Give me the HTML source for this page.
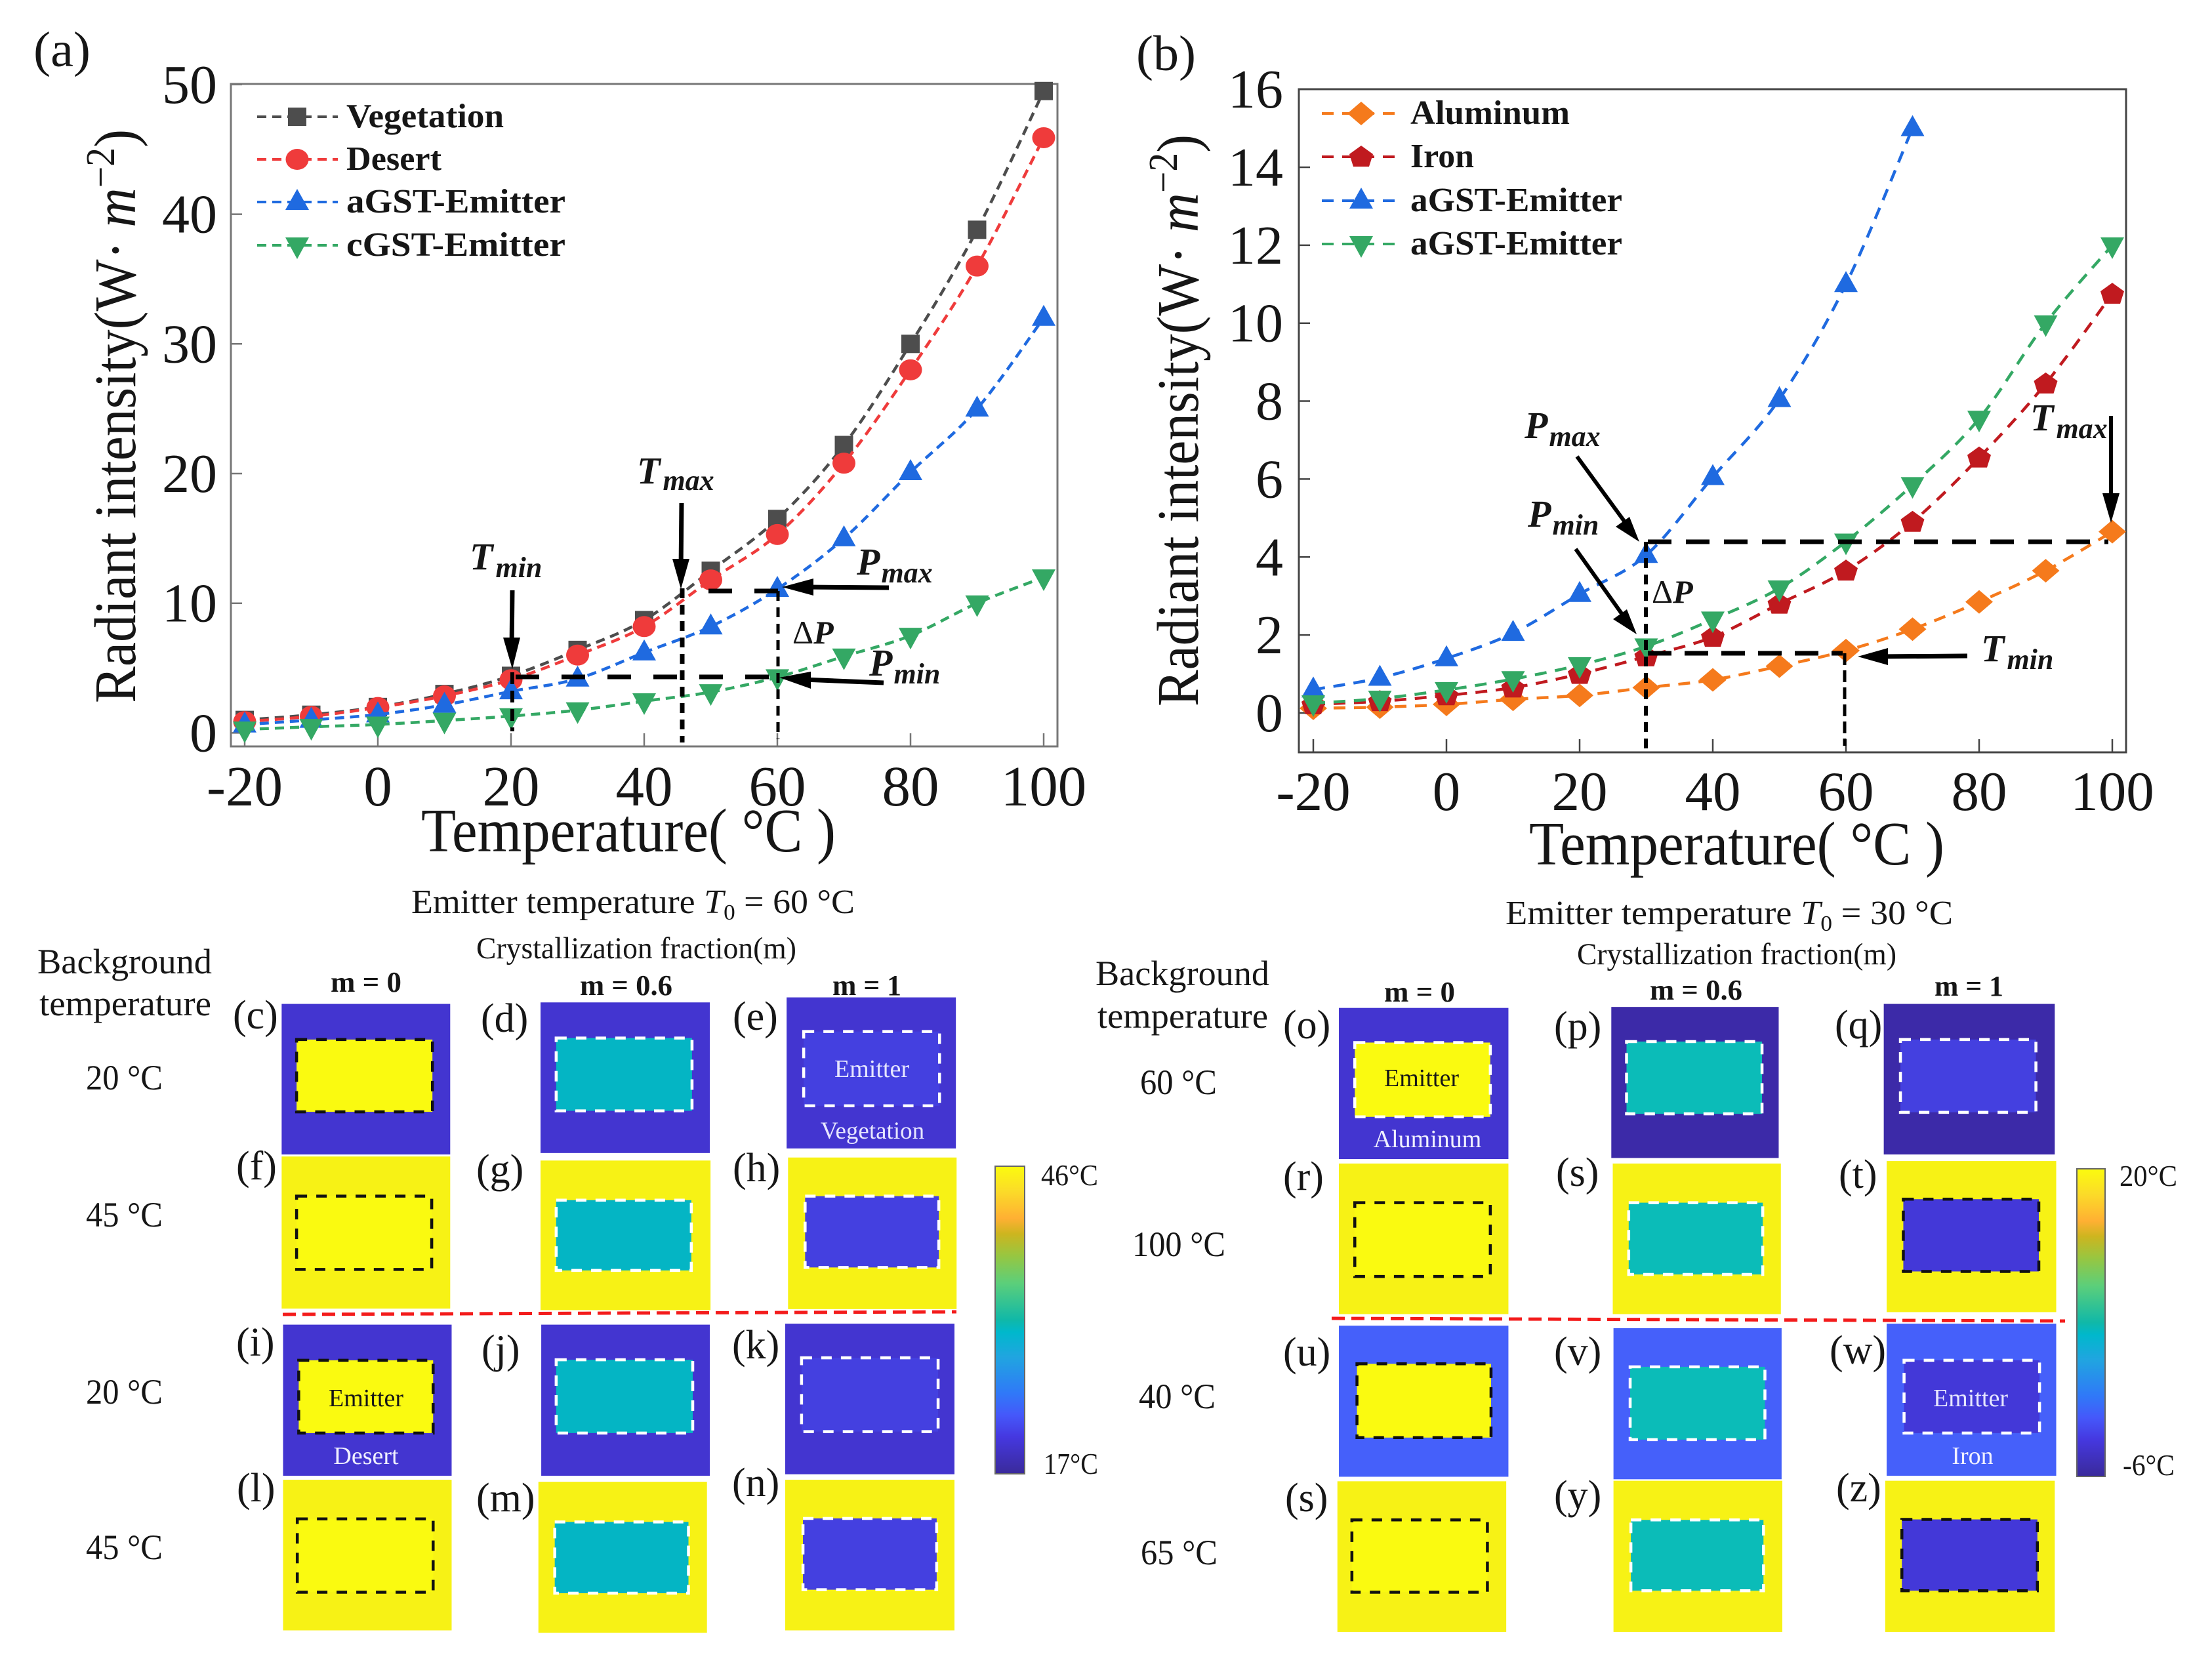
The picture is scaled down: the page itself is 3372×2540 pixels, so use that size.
<!DOCTYPE html>
<html lang="en">
<head>
<meta charset="utf-8">
<title>Radiant intensity and thermal camouflage panels</title>
<style>
html,body{margin:0;padding:0;background:#fff;}
svg{display:block;}
text{font-family:"Liberation Serif","DejaVu Serif",serif;fill:#161616;}
.ns{vector-effect:non-scaling-stroke;}
.bi{font-weight:bold;font-style:italic;}
</style>
</head>
<body>
<svg id="fig" xmlns="http://www.w3.org/2000/svg" width="3372" height="2540" viewBox="0 0 3372 2540">
<defs>
<linearGradient id="parula" x1="0" y1="0" x2="0" y2="1">
<stop offset="0" stop-color="#fbfb0e"/><stop offset=".08" stop-color="#fbdc28"/><stop offset=".17" stop-color="#ffb033"/><stop offset=".22" stop-color="#cdb51f"/><stop offset=".29" stop-color="#98c640"/><stop offset=".38" stop-color="#5ccf7a"/><stop offset=".5" stop-color="#10b8a8"/><stop offset=".54" stop-color="#00b8cc"/><stop offset=".62" stop-color="#20a5e0"/><stop offset=".74" stop-color="#3078f8"/><stop offset=".81" stop-color="#4558fa"/><stop offset=".88" stop-color="#4538e0"/><stop offset="1" stop-color="#3a2a9a"/>
</linearGradient>
</defs>

<g id="chart-a"></g>
<g id="chart-b"></g>

<!-- chart (a) static text -->
<text x="51" y="101" font-size="76" textLength="87" lengthAdjust="spacingAndGlyphs">(a)</text>
<text transform="translate(206,1072) rotate(-90)" font-size="90" textLength="875" lengthAdjust="spacingAndGlyphs">Radiant intensity(W· <tspan font-style="italic">m</tspan><tspan font-size="62" dy="-32">−2</tspan><tspan dy="32">)</tspan></text>
<text x="642" y="1298" font-size="94" textLength="632" lengthAdjust="spacingAndGlyphs">Temperature( °C )</text>

<g fill="none" stroke="#000">
<line x1="781" y1="1025" x2="781" y2="1115" stroke-width="6" stroke-dasharray="18 10"/>
<line x1="786" y1="1032" x2="1186" y2="1032" stroke-width="7" stroke-dasharray="36 34"/>
<line x1="1040" y1="897" x2="1040" y2="1132" stroke-width="7" stroke-dasharray="15 10"/>
<line x1="1080" y1="901" x2="1186" y2="901" stroke-width="7" stroke-dasharray="36 34"/>
<line x1="1186" y1="901" x2="1186" y2="1127" stroke-width="5" stroke-dasharray="15 10"/>
</g>
<g fill="#000" stroke="#000">
<line x1="781" y1="900" x2="780" y2="990" stroke-width="7"/>
<polygon points="767,972 793,972 781,1020" stroke="none"/>
<line x1="1039" y1="767" x2="1038" y2="870" stroke-width="7"/>
<polygon points="1025,852 1051,852 1038,898" stroke="none"/>
<line x1="1355" y1="896" x2="1225" y2="895" stroke-width="7"/>
<polygon points="1240,882 1240,908 1192,895" stroke="none"/>
<line x1="1347" y1="1041" x2="1225" y2="1036" stroke-width="7"/>
<polygon points="1236,1024 1236,1050 1188,1033" stroke="none"/>
</g>
<text x="716" y="868" class="bi" font-size="58">T<tspan font-size="44" dy="12" dx="4">min</tspan></text>
<text x="971" y="737" class="bi" font-size="58">T<tspan font-size="44" dy="10" dx="4">max</tspan></text>
<text x="1306" y="876" class="bi" font-size="58">P<tspan font-size="44" dy="12" dx="2">max</tspan></text>
<text x="1208" y="981" font-size="50">Δ<tspan font-style="italic" font-weight="bold">P</tspan></text>
<text x="1325" y="1030" class="bi" font-size="58">P<tspan font-size="44" dy="12" dx="2">min</tspan></text>

<!-- chart (b) static text -->
<text x="1732" y="107" font-size="76" textLength="91" lengthAdjust="spacingAndGlyphs">(b)</text>
<text transform="translate(1826,1077) rotate(-90)" font-size="90" textLength="872" lengthAdjust="spacingAndGlyphs">Radiant intensity(W· <tspan font-style="italic">m</tspan><tspan font-size="62" dy="-32">−2</tspan><tspan dy="32">)</tspan></text>
<text x="2331" y="1318" font-size="94" textLength="633" lengthAdjust="spacingAndGlyphs">Temperature( °C )</text>

<g fill="none" stroke="#000">
<line x1="2512" y1="826" x2="3214" y2="826" stroke-width="7" stroke-dasharray="36 22"/>
<line x1="2509" y1="826" x2="2509" y2="1145" stroke-width="6" stroke-dasharray="15 10"/>
<line x1="2512" y1="996" x2="2809" y2="996" stroke-width="7" stroke-dasharray="36 20"/>
<line x1="2812" y1="996" x2="2812" y2="1137" stroke-width="5" stroke-dasharray="18 8"/>
</g>
<g fill="#000" stroke="#000">
<line x1="2404" y1="696" x2="2480" y2="800" stroke-width="6"/>
<polygon points="2463,803 2484,788 2499,826" stroke="none"/>
<line x1="2402" y1="837" x2="2476" y2="941" stroke-width="6"/>
<polygon points="2459,944 2480,929 2495,967" stroke="none"/>
<line x1="2999" y1="1000" x2="2862" y2="1001" stroke-width="7"/>
<polygon points="2878,988 2878,1014 2832,1001" stroke="none"/>
<line x1="3218" y1="634" x2="3218" y2="765" stroke-width="6"/>
<polygon points="3205,752 3231,752 3218,797" stroke="none"/>
</g>
<text x="2324" y="668" class="bi" font-size="58">P<tspan font-size="44" dy="12" dx="2">max</tspan></text>
<text x="2329" y="803" class="bi" font-size="58">P<tspan font-size="44" dy="12" dx="2">min</tspan></text>
<text x="2518" y="919" font-size="50">Δ<tspan font-style="italic" font-weight="bold">P</tspan></text>
<text x="3020" y="1008" class="bi" font-size="58">T<tspan font-size="44" dy="12" dx="4">min</tspan></text>
<text x="3095" y="656" class="bi" font-size="58">T<tspan font-size="44" dy="12" dx="4">max</tspan></text>

<!-- left thermal panel grid -->
<g transform="translate(0,1340) scale(1.0842,.7653)" stroke-width="4.5" stroke-dasharray="16 14">
<rect x="396" y="249" width="237" height="300" fill="#4335d0" stroke="none"/>
<rect x="417" y="320" width="191" height="144" fill="#fafa10" stroke="#111" class="ns"/>
<rect x="760" y="246" width="238" height="300" fill="#4335d0" stroke="none"/>
<rect x="782" y="317" width="191" height="145" fill="#04b5c4" stroke="#fff" class="ns"/>
<rect x="1106" y="236" width="238" height="301" fill="#4335d0" stroke="none"/>
<rect x="1130" y="304" width="191" height="148" fill="#4440e0" stroke="#fff" class="ns"/>
<rect x="396" y="553" width="237" height="303" fill="#f7f215" stroke="none"/>
<rect x="417" y="632" width="190" height="146" fill="#fafa10" stroke="#111" class="ns"/>
<rect x="760" y="561" width="239" height="298" fill="#f7f215" stroke="none"/>
<rect x="782" y="640" width="190" height="140" fill="#04b5c4" stroke="#fff" class="ns"/>
<rect x="1108" y="555" width="237" height="302" fill="#f7f215" stroke="none"/>
<rect x="1132" y="632" width="188" height="142" fill="#4440e0" stroke="#fff" class="ns"/>
<rect x="398" y="888" width="237" height="301" fill="#4335d0" stroke="none"/>
<rect x="420" y="959" width="189" height="145" fill="#fafa10" stroke="#111" class="ns"/>
<rect x="761" y="888" width="237" height="301" fill="#4335d0" stroke="none"/>
<rect x="782" y="958" width="192" height="146" fill="#04b5c4" stroke="#fff" class="ns"/>
<rect x="1104" y="886" width="238" height="300" fill="#4335d0" stroke="none"/>
<rect x="1127" y="954" width="192" height="147" fill="#4440e0" stroke="#fff" class="ns"/>
<rect x="398" y="1197" width="237" height="300" fill="#f7f215" stroke="none"/>
<rect x="418" y="1275" width="191" height="146" fill="#fafa10" stroke="#111" class="ns"/>
<rect x="757" y="1201" width="237" height="301" fill="#f7f215" stroke="none"/>
<rect x="780" y="1281" width="188" height="142" fill="#04b5c4" stroke="#fff" class="ns"/>
<rect x="1104" y="1197" width="238" height="300" fill="#f7f215" stroke="none"/>
<rect x="1129" y="1274" width="188" height="142" fill="#4440e0" stroke="#fff" class="ns"/>
</g>

<!-- right thermal panel grid -->
<g transform="translate(1640,1340) scale(1.1046,.7653)" stroke-width="4.5" stroke-dasharray="16 14">
<rect x="363" y="257" width="234" height="301" fill="#4335d0" stroke="none"/>
<rect x="385" y="326" width="187" height="148" fill="#fafa10" stroke="#fff" class="ns"/>
<rect x="739" y="255" width="231" height="301" fill="#3c2aa8" stroke="none"/>
<rect x="760" y="324" width="187" height="144" fill="#0bbcb8" stroke="#fff" class="ns"/>
<rect x="1115" y="249" width="236" height="300" fill="#3c2aa8" stroke="none"/>
<rect x="1138" y="320" width="187" height="145" fill="#4440e0" stroke="#fff" class="ns"/>
<rect x="363" y="567" width="234" height="300" fill="#f7f215" stroke="none"/>
<rect x="385" y="645" width="187" height="147" fill="#fafa10" stroke="#111" class="ns"/>
<rect x="741" y="567" width="232" height="300" fill="#f7f215" stroke="none"/>
<rect x="763" y="645" width="185" height="143" fill="#0bbcb8" stroke="#fff" class="ns"/>
<rect x="1119" y="562" width="234" height="301" fill="#f7f215" stroke="none"/>
<rect x="1142" y="638" width="187" height="144" fill="#4338d8" stroke="#111" class="ns"/>
<rect x="363" y="890" width="234" height="301" fill="#4560fa" stroke="none"/>
<rect x="388" y="966" width="185" height="147" fill="#fafa10" stroke="#111" class="ns"/>
<rect x="742" y="895" width="232" height="301" fill="#4560fa" stroke="none"/>
<rect x="765" y="972" width="186" height="145" fill="#0bbcb8" stroke="#fff" class="ns"/>
<rect x="1119" y="886" width="234" height="303" fill="#4560fa" stroke="none"/>
<rect x="1143" y="959" width="187" height="145" fill="#4338d8" stroke="#fff" class="ns"/>
<rect x="361" y="1200" width="233" height="300" fill="#f7f215" stroke="none"/>
<rect x="381" y="1277" width="187" height="144" fill="#fafa10" stroke="#111" class="ns"/>
<rect x="742" y="1199" width="233" height="301" fill="#f7f215" stroke="none"/>
<rect x="766" y="1277" width="183" height="141" fill="#0bbcb8" stroke="#fff" class="ns"/>
<rect x="1117" y="1199" width="234" height="301" fill="#f7f215" stroke="none"/>
<rect x="1140" y="1276" width="187" height="142" fill="#4338d8" stroke="#111" class="ns"/>
</g>

<line x1="431" y1="2004" x2="1458" y2="2000" stroke="#f31b1b" stroke-width="5" stroke-dasharray="20 10"/>
<line x1="2030" y1="2010" x2="3148" y2="2014" stroke="#f31b1b" stroke-width="5" stroke-dasharray="20 10"/>

<!-- colorbars -->
<rect x="1517" y="1778" width="45" height="469" fill="url(#parula)" stroke="#666" stroke-width="2"/>
<rect x="3166" y="1782" width="43" height="469" fill="url(#parula)" stroke="#666" stroke-width="2"/>
<text x="1587" y="1807" font-size="46" textLength="87" lengthAdjust="spacingAndGlyphs">46°C</text>
<text x="1591" y="2247" font-size="46" textLength="83" lengthAdjust="spacingAndGlyphs">17°C</text>
<text x="3231" y="1808" font-size="46" textLength="88" lengthAdjust="spacingAndGlyphs">20°C</text>
<text x="3236" y="2249" font-size="46" textLength="79" lengthAdjust="spacingAndGlyphs">-6°C</text>

<!-- left grid headings -->
<text x="627" y="1392" font-size="52" textLength="676" lengthAdjust="spacingAndGlyphs">Emitter temperature <tspan font-style="italic">T</tspan><tspan font-size="34" dy="10">0</tspan><tspan dy="-10"> = 60 °C</tspan></text>
<text x="726" y="1461" font-size="47" textLength="488" lengthAdjust="spacingAndGlyphs">Crystallization fraction(m)</text>
<text x="57" y="1484" font-size="54" textLength="266" lengthAdjust="spacingAndGlyphs">Background</text>
<text x="60" y="1548" font-size="54" textLength="262" lengthAdjust="spacingAndGlyphs">temperature</text>
<text x="504" y="1512" font-size="44" font-weight="bold" textLength="108" lengthAdjust="spacingAndGlyphs">m = 0</text>
<text x="884" y="1517" font-size="44" font-weight="bold" textLength="141" lengthAdjust="spacingAndGlyphs">m = 0.6</text>
<text x="1269" y="1517" font-size="44" font-weight="bold" textLength="105" lengthAdjust="spacingAndGlyphs">m = 1</text>
<g font-size="54">
<text x="131" y="1661" textLength="117" lengthAdjust="spacingAndGlyphs">20 °C</text>
<text x="131" y="1870" textLength="117" lengthAdjust="spacingAndGlyphs">45 °C</text>
<text x="131" y="2140" textLength="117" lengthAdjust="spacingAndGlyphs">20 °C</text>
<text x="131" y="2377" textLength="117" lengthAdjust="spacingAndGlyphs">45 °C</text>
</g>
<g font-size="62">
<text x="355" y="1568">(c)</text>
<text x="733" y="1573">(d)</text>
<text x="1117" y="1570">(e)</text>
<text x="360" y="1798">(f)</text>
<text x="726" y="1803">(g)</text>
<text x="1117" y="1801">(h)</text>
<text x="360" y="2067">(i)</text>
<text x="734" y="2078">(j)</text>
<text x="1116" y="2071">(k)</text>
<text x="361" y="2289">(l)</text>
<text x="726" y="2304">(m)</text>
<text x="1116" y="2281">(n)</text>
</g>
<text x="1329" y="1642" font-size="38" text-anchor="middle" style="fill:#e6e6ff">Emitter</text>
<text x="1330" y="1736" font-size="37" text-anchor="middle" style="fill:#e6e6ff">Vegetation</text>
<text x="558" y="2144" font-size="38" text-anchor="middle">Emitter</text>
<text x="558" y="2232" font-size="38" text-anchor="middle" style="fill:#f0f0ff">Desert</text>

<!-- right grid headings -->
<text x="2295" y="1409" font-size="52" textLength="682" lengthAdjust="spacingAndGlyphs">Emitter temperature <tspan font-style="italic">T</tspan><tspan font-size="34" dy="10">0</tspan><tspan dy="-10"> = 30 °C</tspan></text>
<text x="2404" y="1470" font-size="47" textLength="487" lengthAdjust="spacingAndGlyphs">Crystallization fraction(m)</text>
<text x="1670" y="1502" font-size="54" textLength="265" lengthAdjust="spacingAndGlyphs">Background</text>
<text x="1673" y="1567" font-size="54" textLength="260" lengthAdjust="spacingAndGlyphs">temperature</text>
<text x="2110" y="1527" font-size="44" font-weight="bold" textLength="108" lengthAdjust="spacingAndGlyphs">m = 0</text>
<text x="2515" y="1524" font-size="44" font-weight="bold" textLength="141" lengthAdjust="spacingAndGlyphs">m = 0.6</text>
<text x="2949" y="1518" font-size="44" font-weight="bold" textLength="105" lengthAdjust="spacingAndGlyphs">m = 1</text>
<g font-size="54">
<text x="1738" y="1668" textLength="117" lengthAdjust="spacingAndGlyphs">60 °C</text>
<text x="1726" y="1915" textLength="142" lengthAdjust="spacingAndGlyphs">100 °C</text>
<text x="1736" y="2147" textLength="117" lengthAdjust="spacingAndGlyphs">40 °C</text>
<text x="1739" y="2385" textLength="117" lengthAdjust="spacingAndGlyphs">65 °C</text>
</g>
<g font-size="62">
<text x="1956" y="1583">(o)</text>
<text x="2369" y="1585">(p)</text>
<text x="2797" y="1583">(q)</text>
<text x="1956" y="1814">(r)</text>
<text x="2372" y="1808">(s)</text>
<text x="2803" y="1811">(t)</text>
<text x="1956" y="2082">(u)</text>
<text x="2369" y="2081">(v)</text>
<text x="2789" y="2079">(w)</text>
<text x="1959" y="2304">(s)</text>
<text x="2369" y="2300">(y)</text>
<text x="2799" y="2289">(z)</text>
</g>
<text x="2167" y="1656" font-size="38" text-anchor="middle">Emitter</text>
<text x="2176" y="1749" font-size="38" text-anchor="middle" style="fill:#f0f0ff">Aluminum</text>
<text x="3004" y="2144" font-size="38" text-anchor="middle" style="fill:#e6e6ff">Emitter</text>
<text x="3007" y="2232" font-size="38" text-anchor="middle" style="fill:#f0f0ff">Iron</text>
</svg>

<script>
const temperatures = [-20,-10,0,10,20,30,40,50,60,70,80,90,100];
const xTickLabels = [-20,0,20,40,60,80,100];
const yTicksA = [0,10,20,30,40,50];
const yTicksB = [0,2,4,6,8,10,12,14,16];

const vegetationValues = [1.0,1.4,2.0,3.0,4.4,6.4,8.7,12.5,16.5,22.2,30,38.8,49.5];
const desertValues = [0.87,1.28,1.96,2.85,4.1,6.0,8.2,11.8,15.3,20.8,28,36,45.9];
const agstValuesA = [0.64,1.0,1.42,2.16,3.2,4.18,6.2,8.2,11.1,15,20.1,25,32];
const cgstValuesA = [0.27,0.47,0.65,0.95,1.3,1.75,2.45,3.15,4.3,5.9,7.5,10,12];

const aluminumValues = [0.12,0.15,0.22,0.35,0.45,0.65,0.85,1.2,1.6,2.15,2.85,3.65,4.65];
const ironValues = [0.22,0.3,0.45,0.65,1.0,1.45,1.95,2.8,3.65,4.9,6.55,8.45,10.75];
const agstValuesB = [0.6,0.9,1.4,2.05,3.05,4.05,6.05,8.05,11,15];
const cgstValuesB = [0.25,0.37,0.59,0.87,1.23,1.71,2.4,3.2,4.4,5.85,7.55,10,12];

const NS = 'http://www.w3.org/2000/svg';
const svgA = document.getElementById('chart-a');
const svgB = document.getElementById('chart-b');

function xA(t){ return 373 + (t + 20) * (1591 - 373) / 120; }
function yA(v){ return 1117.4 - v * 19.77; }
function xB(t){ return 2002 + (t + 20) * (3220 - 2002) / 120; }
function yB(v){ return 1087 - v * 59.43; }

function smoothPath(pts){
  let d = 'M' + pts[0][0] + ' ' + pts[0][1];
  for (let i = 0; i < pts.length - 1; i++) {
    const p0 = pts[Math.max(i - 1, 0)], p1 = pts[i], p2 = pts[i + 1], p3 = pts[Math.min(i + 2, pts.length - 1)];
    d += ' C' + (p1[0] + (p2[0] - p0[0]) / 6) + ' ' + (p1[1] + (p2[1] - p0[1]) / 6) + ' ' +
         (p2[0] - (p3[0] - p1[0]) / 6) + ' ' + (p2[1] - (p3[1] - p1[1]) / 6) + ' ' + p2[0] + ' ' + p2[1];
  }
  return d;
}

function drawMarker(parent, shape, cx, cy, color, name){
  let el;
  if (shape === 'circle') {
    el = document.createElementNS(NS, 'ellipse');
    el.setAttribute('cx', cx);
    el.setAttribute('cy', cy);
    el.setAttribute('rx', 17.5);
    el.setAttribute('ry', 16);
  } else if (shape === 'square') {
    el = document.createElementNS(NS, 'rect');
    el.setAttribute('x', cx - 14);
    el.setAttribute('y', cy - 14);
    el.setAttribute('width', 28);
    el.setAttribute('height', 28);
  } else {
    el = document.createElementNS(NS, 'polygon');
    let p;
    if (shape === 'up') p = [[cx - 18, cy + 12], [cx + 18, cy + 12], [cx, cy - 20]];
    else if (shape === 'down') p = [[cx - 18, cy - 12], [cx + 18, cy - 12], [cx, cy + 21]];
    else if (shape === 'diamond') p = [[cx, cy - 18], [cx + 21, cy], [cx, cy + 18], [cx - 21, cy]];
    else p = [[cx, cy - 17], [cx + 18, cy - 4], [cx + 12, cy + 15], [cx - 12, cy + 15], [cx - 18, cy - 4]];
    el.setAttribute('points', p.map(function(q){ return q.join(','); }).join(' '));
  }
  el.setAttribute('fill', color);
  
  
  parent.appendChild(el);
}

function drawSeries(parent, values, xf, yf, shape, color, dash, name){
  const g = document.createElementNS(NS, 'g');
  
  
  parent.appendChild(g);
  const pts = values.map(function(v, i){ return [xf(temperatures[i]), yf(v)]; });
  const line = document.createElementNS(NS, 'path');
  line.setAttribute('d', smoothPath(pts));
  line.setAttribute('fill', 'none');
  line.setAttribute('stroke', color);
  line.setAttribute('stroke-width', 4.5);
  line.setAttribute('stroke-dasharray', dash);
  
  
  g.appendChild(line);
  pts.forEach(function(p){
    drawMarker(g, shape, p[0], p[1], color, name + '-point');
  });
}

function drawAxes(parent, left, right, top, bottom, xf, yf, yTicks, yLabelRight, yFont, xBaseline, xFont, frameColor, suffix){
  const frame = document.createElementNS(NS, 'rect');
  frame.setAttribute('x', left);
  frame.setAttribute('y', top);
  frame.setAttribute('width', right - left);
  frame.setAttribute('height', bottom - top);
  frame.setAttribute('fill', '#fff');
  frame.setAttribute('stroke', frameColor);
  frame.setAttribute('stroke-width', 3);
  
  
  parent.appendChild(frame);
  xTickLabels.forEach(function(t){
    const tick = document.createElementNS(NS, 'line');
    tick.setAttribute('x1', xf(t));
    tick.setAttribute('x2', xf(t));
    tick.setAttribute('y1', bottom);
    tick.setAttribute('y2', bottom - 20);
    tick.setAttribute('stroke', frameColor);
    tick.setAttribute('stroke-width', 2.5);
    
    
    parent.appendChild(tick);
    const label = document.createElementNS(NS, 'text');
    label.setAttribute('x', xf(t));
    label.setAttribute('y', xBaseline);
    label.setAttribute('font-size', xFont);
    label.setAttribute('text-anchor', 'middle');
    
    
    label.textContent = t;
    parent.appendChild(label);
  });
  yTicks.forEach(function(v){
    const tick = document.createElementNS(NS, 'line');
    tick.setAttribute('x1', left);
    tick.setAttribute('x2', left + 17);
    tick.setAttribute('y1', yf(v));
    tick.setAttribute('y2', yf(v));
    tick.setAttribute('stroke', frameColor);
    tick.setAttribute('stroke-width', 2.5);
    
    
    parent.appendChild(tick);
    const label = document.createElementNS(NS, 'text');
    label.setAttribute('x', yLabelRight);
    label.setAttribute('y', yf(v) + 28);
    label.setAttribute('font-size', yFont);
    label.setAttribute('text-anchor', 'end');
    
    
    label.textContent = v;
    parent.appendChild(label);
  });
}

function drawLegendRow(parent, x1, x2, mx, tx, y, shape, color, dash, text, width, name){
  const line = document.createElementNS(NS, 'line');
  line.setAttribute('x1', x1);
  line.setAttribute('x2', x2);
  line.setAttribute('y1', y);
  line.setAttribute('y2', y);
  line.setAttribute('stroke', color);
  line.setAttribute('stroke-width', 4);
  line.setAttribute('stroke-dasharray', dash);
  
  
  parent.appendChild(line);
  drawMarker(parent, shape, mx, y, color, name + '-legend-marker');
  const label = document.createElementNS(NS, 'text');
  label.setAttribute('x', tx);
  label.setAttribute('y', y + 16);
  label.setAttribute('font-size', 52);
  label.setAttribute('font-weight', 'bold');
  label.setAttribute('textLength', width);
  label.setAttribute('lengthAdjust', 'spacingAndGlyphs');
  
  
  label.textContent = text;
  parent.appendChild(label);
}

const dashA = '14 9', dashB = '18 13';
drawAxes(svgA, 352, 1612, 128, 1138, xA, yA, yTicksA, 331, 84, 1228, 87, '#777', 'a');
drawSeries(svgA, vegetationValues, xA, yA, 'square', '#4d4d4d', dashA, 'vegetation');
drawSeries(svgA, desertValues, xA, yA, 'circle', '#ef3b3b', dashA, 'desert');
drawSeries(svgA, agstValuesA, xA, yA, 'up', '#1f6ae0', dashA, 'agst-a');
drawSeries(svgA, cgstValuesA, xA, yA, 'down', '#34a864', dashA, 'cgst-a');
drawLegendRow(svgA, 392, 515, 453, 528, 178, 'square', '#4d4d4d', dashA, 'Vegetation', 240, 'vegetation');
drawLegendRow(svgA, 392, 515, 453, 528, 243, 'circle', '#ef3b3b', dashA, 'Desert', 145, 'desert');
drawLegendRow(svgA, 392, 515, 453, 528, 308, 'up', '#1f6ae0', dashA, 'aGST-Emitter', 334, 'agst-a');
drawLegendRow(svgA, 392, 515, 453, 528, 374, 'down', '#34a864', dashA, 'cGST-Emitter', 334, 'cgst-a');

drawAxes(svgB, 1980, 3241, 136, 1147, xB, yB, yTicksB, 1956, 84, 1235, 85, '#444', 'b');
drawSeries(svgB, aluminumValues, xB, yB, 'diamond', '#f57a1c', dashB, 'aluminum');
drawSeries(svgB, ironValues, xB, yB, 'pentagon', '#c01a1f', dashB, 'iron');
drawSeries(svgB, agstValuesB, xB, yB, 'up', '#1f6ae0', dashB, 'agst-b');
drawSeries(svgB, cgstValuesB, xB, yB, 'down', '#34a864', dashB, 'cgst-b');
drawLegendRow(svgB, 2015, 2137, 2075, 2150, 173, 'diamond', '#f57a1c', dashB, 'Aluminum', 243, 'aluminum');
drawLegendRow(svgB, 2015, 2137, 2075, 2150, 239, 'pentagon', '#c01a1f', dashB, 'Iron', 97, 'iron');
drawLegendRow(svgB, 2015, 2137, 2075, 2150, 306, 'up', '#1f6ae0', dashB, 'aGST-Emitter', 323, 'agst-b');
drawLegendRow(svgB, 2015, 2137, 2075, 2150, 372, 'down', '#34a864', dashB, 'aGST-Emitter', 323, 'cgst-b');
</script>
</body>
</html>
